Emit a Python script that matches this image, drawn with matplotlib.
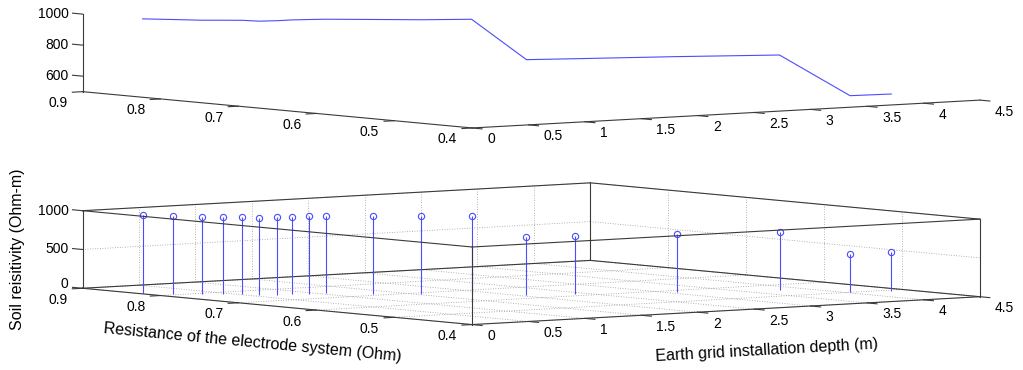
import matplotlib
matplotlib.use("Agg")
import matplotlib.pyplot as plt
import matplotlib.transforms as mtransforms
from mpl_toolkits.mplot3d import proj3d

# values
resistance = [0.83, 0.81, 0.79, 0.78, 0.77, 0.755, 0.75, 0.75, 0.745, 0.74,
              0.715, 0.69, 0.67, 0.63, 0.615, 0.585, 0.55, 0.50, 0.495]
depth = [0.05, 0.18, 0.30, 0.42, 0.52, 0.56, 0.69, 0.82, 0.94, 1.05,
         1.30, 1.55, 1.86, 2.07, 2.40, 3.09, 3.76, 4.04, 4.37]
resistivity = [1000, 1000, 1000, 1000, 1000, 1000, 1000, 1000, 1000, 1000,
               1000, 1000, 1000, 750, 750, 750, 750, 500, 500]

r_ticks = [0.9, 0.8, 0.7, 0.6, 0.5, 0.4]
d_ticks = [0, 0.5, 1, 1.5, 2, 2.5, 3, 3.5, 4, 4.5]
z_ticks_top = [600, 800, 1000]
z_ticks_bottom = [0, 500, 1000]

r_lim = (0.9, 0.4)
d_lim = (0, 4.5)
z_lim_top = (500, 1000)
z_lim_bottom = (0, 1000)

plt.rcParams["font.family"] = ["Liberation Sans", "DejaVu Sans"]
font_size = 10
label_size = 11.5
blue = "#4b4bff"
edge_color = "#3a3a3a"
grid_color = "#9a9a9a"

W, H = 1023, 370
fig = plt.figure(figsize=(W / 100, H / 100), dpi=100)

S = 1300          # side of the square 3d axes (px)
zoom = 0.6784     # gives ~640 px for the x / y box edges
frac = 0.095 / 0.185


def make_axes(cx, cy):
    left = cx - frac * S
    bottom = (H - cy) - frac * S
    ax = fig.add_axes([left / W, bottom / H, S / W, S / H],
                      projection="3d", computed_zorder=False)
    ax.set_proj_type("ortho")
    ax.view_init(elev=4.1, azim=-37.5)
    ax.set_box_aspect((1, 1, 0.1215), zoom=zoom)
    ax.set_axis_off()
    ax.set_facecolor("none")
    return ax


def text3d(ax, x, y, z, s, dx, dy, **kw):
    # project once, then place as plain 2d text with a pixel offset
    x2, y2, _ = proj3d.proj_transform(x, y, z, ax.get_proj())
    off = mtransforms.ScaledTranslation(dx / 100, dy / 100, fig.dpi_scale_trans)
    ax.text2D(x2, y2, s, transform=ax.transData + off, fontsize=font_size, **kw)


def draw_axes(ax, z_lim, z_ticks, boxed):
    r_left, r_front = r_lim
    d_front, d_back = d_lim
    z0, z1 = z_lim
    ax.set_xlim(*r_lim)
    ax.set_ylim(*d_lim)
    ax.set_zlim(*z_lim)
    # axes are drawn by hand below, drop the built-in tick texts
    ax.set_xticks([])
    ax.set_yticks([])
    ax.set_zticks([])

    line_kw = dict(color=edge_color, lw=0.8)
    if boxed:
        # twelve box edges, the ones through the front corner on top
        for d in d_lim:
            for z in z_lim:
                front = d == d_front
                ax.plot(r_lim, [d, d], [z, z], zorder=4 if front else 2, **line_kw)
        for r in r_lim:
            for z in z_lim:
                front = r == r_front
                ax.plot([r, r], d_lim, [z, z], zorder=4 if front else 2, **line_kw)
        for r in r_lim:
            for d in d_lim:
                front = r == r_front and d == d_front
                ax.plot([r, r], [d, d], z_lim, zorder=4 if front else 2, **line_kw)

        grid_kw = dict(color=grid_color, lw=0.6, ls=(0, (1, 2)), zorder=1)
        for r in r_ticks:
            ax.plot([r, r], d_lim, [z0, z0], **grid_kw)
            ax.plot([r, r], [d_back, d_back], z_lim, **grid_kw)
        for d in d_ticks:
            ax.plot(r_lim, [d, d], [z0, z0], **grid_kw)
            ax.plot([r_left, r_left], [d, d], z_lim, **grid_kw)
        for z in z_ticks:
            ax.plot([r_left, r_left], d_lim, [z, z], **grid_kw)
            ax.plot(r_lim, [d_back, d_back], [z, z], **grid_kw)
    else:
        ax.plot(r_lim, [d_front, d_front], [z0, z0], zorder=4, **line_kw)
        ax.plot([r_front, r_front], d_lim, [z0, z0], zorder=4, **line_kw)
        ax.plot([r_left, r_left], [d_front, d_front], z_lim, zorder=4, **line_kw)

    # tick marks
    for r in r_ticks:
        ax.plot([r, r], [d_front, d_front - 0.09], [z0, z0], zorder=4, **line_kw)
    for d in d_ticks:
        ax.plot([r_front, r_front - 0.0128], [d, d], [z0, z0], zorder=4, **line_kw)
    for z in z_ticks:
        ax.plot([r_left, r_left + 0.0128], [d_front, d_front], [z, z], zorder=4, **line_kw)

    # tick labels
    for r in r_ticks:
        text3d(ax, r, d_front, z0, f"{r:g}", -15, -11.5, ha="right", va="center")
    for d in d_ticks:
        text3d(ax, r_front, d, z0, f"{d:g}", 15, -11.5, ha="left", va="center")
    for z in z_ticks:
        # the label sitting on the floor corner is lifted a little, as in MATLAB
        text3d(ax, r_left, d_front, z, f"{z:g}", -14, 4.5 if z == z0 else 0,
               ha="right", va="center")


# top: 3d line
ax_top = make_axes(531.2, 57.1)
draw_axes(ax_top, z_lim_top, z_ticks_top, boxed=False)
ax_top.plot(resistance, depth, resistivity, color=blue, lw=0.8, zorder=3)

# bottom: 3d stems
ax_bot = make_axes(531.2, 253.7)
draw_axes(ax_bot, z_lim_bottom, z_ticks_bottom, boxed=True)
markerline, stemlines, baseline = ax_bot.stem(resistance, depth, resistivity)
baseline.set_visible(False)
stemlines.set_color(blue)
stemlines.set_linewidth(0.8)
stemlines.set_zorder(3)
markerline.set_color(blue)
markerline.set_markerfacecolor("none")
markerline.set_markersize(4.5)
markerline.set_markeredgewidth(0.8)
markerline.set_zorder(3)

fig.text(18 / W, 1 - 249 / H, "Soil reisitivity (Ohm-m)", rotation=90,
         ha="center", va="center", rotation_mode="anchor", fontsize=label_size)
fig.text(253 / W, 1 - 343 / H, "Resistance of the electrode system (Ohm)",
         rotation=-5.4, ha="center", va="center", rotation_mode="anchor",
         fontsize=label_size)
fig.text(767 / W, 1 - 350 / H, "Earth grid installation depth (m)",
         rotation=3.2, ha="center", va="center", rotation_mode="anchor",
         fontsize=label_size)

fig.savefig("out.png", dpi=100)
